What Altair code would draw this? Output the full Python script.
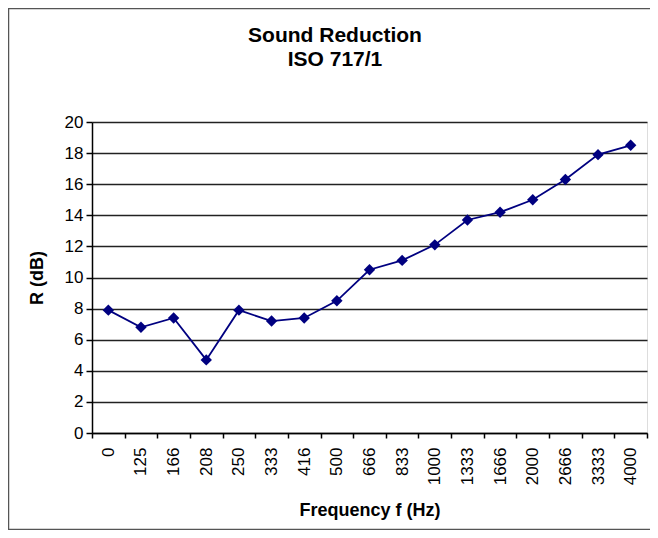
import altair as alt
import pandas as pd

freqs = ["0", "125", "166", "208", "250", "333", "416", "500", "666", "833",
         "1000", "1333", "1666", "2000", "2666", "3333", "4000"]
r_db = [7.9, 6.8, 7.4, 4.7, 7.9, 7.2, 7.4, 8.5, 10.5, 11.1,
        12.1, 13.7, 14.2, 15.0, 16.3, 17.9, 18.5]
y_ticks = list(range(0, 21, 2))

title_text = "Sound Reduction\nISO 717/1"
x_title = "Frequency f (Hz)"
y_title = "R (dB)"

FONT = "Liberation Sans"

df = pd.DataFrame({"freq": freqs, "r": r_db})

line = alt.Chart(df).mark_line(
    color="#000080", strokeWidth=1.8,
    point=alt.OverlayMarkDef(shape="diamond", size=130, filled=True,
                             color="#000080", opacity=1),
).encode(
    x=alt.X("freq:N", sort=freqs,
            scale=alt.Scale(type="band", paddingInner=0, paddingOuter=0),
            axis=alt.Axis(title=x_title, labelAngle=270, labelAlign="right",
                          labelBaseline="middle", labelPadding=9,
                          labelFontSize=17, labelFont=FONT, labelColor="black",
                          tickBand="extent", tickSize=5, tickColor="black",
                          tickWidth=1.5, domainColor="black", domainWidth=1.5,
                          titleFont=FONT, titleFontSize=18, titleFontWeight="bold",
                          titleColor="black", titleY=82,
                          titleBaseline="alphabetic", grid=False)),
    y=alt.Y("r:Q", scale=alt.Scale(domain=[0, 20], nice=False),
            axis=alt.Axis(title=y_title, values=y_ticks, labelFontSize=17,
                          labelFont=FONT, labelColor="black", labelPadding=3,
                          tickSize=6, tickColor="black", tickWidth=1.5,
                          domainColor="black", domainWidth=1.5,
                          grid=True, gridColor="#222222", gridWidth=1.5,
                          titleFont=FONT, titleFontSize=18, titleFontWeight="bold",
                          titleColor="black", titleAngle=270, titleX=-55,
                          titleY=155.5, titleAlign="center",
                          titleBaseline="middle")),
)

one = pd.DataFrame({"a": [0]})

frame = alt.Chart(one).mark_rect(
    fill=None, stroke="#555555", strokeWidth=1.5
).encode(
    x=alt.value(-83.5), x2=alt.value(600),
    y=alt.value(-113.5), y2=alt.value(407.5),
)

title = alt.Chart(one).mark_text(
    text=title_text, lineBreak="\n", lineHeight=24, font=FONT, fontSize=21,
    fontWeight="bold", color="black", align="center", baseline="alphabetic",
).encode(
    x=alt.value(243), y=alt.value(-80),
)

chart = alt.layer(frame, title, line).properties(
    width=555, height=311,
    autosize=alt.AutoSizeParams(type="none"),
    padding={"left": 84, "top": 114, "right": 3, "bottom": 97},
).configure_view(
    fill="#C0C0C0", stroke="#808080", strokeWidth=1.5
).configure(background="white")

chart.save("out.html", embed_options={"renderer": "svg", "actions": False})
